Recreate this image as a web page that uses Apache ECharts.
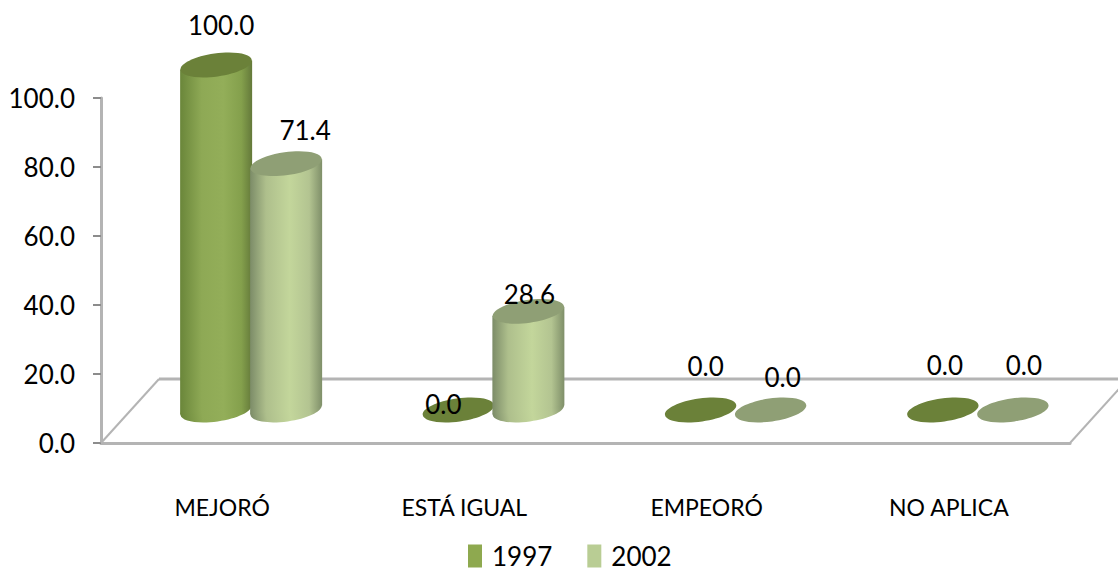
<!DOCTYPE html>
<html>
<head>
<meta charset="utf-8">
<style>
  html, body { margin: 0; padding: 0; background: #fff; }
  #main { width: 1118px; height: 571px; }
</style>
<script src="https://cdn.jsdelivr.net/npm/echarts@6/dist/echarts.min.js"></script>
</head>
<body>
<div id="main"></div>
<script>
const categories = ['MEJORÓ', 'ESTÁ IGUAL', 'EMPEORÓ', 'NO APLICA'];
const values1997 = [100.0, 0.0, 0.0, 0.0];
const values2002 = [71.4, 28.6, 0.0, 0.0];
const yTicks = { min: 0, max: 100, interval: 20 };

// label nudges in px from the top centre of each cylinder (placed by hand in the original)
const nudge1997 = [[5, -40], [-15, -6], [5, -44], [2, -45]];
const nudge2002 = [[19, -34], [1, -17], [12, -33], [11, -45]];

const fontName = 'Lato, "Liberation Sans", sans-serif';
const axisGrey = '#b4b4b4';
const depth = { x: 29, y: -33 };
const floorDepth = { x: 58, y: -64 };
const rx = 36;
const ry = 11.5;
const tilt = 0.14;

var chartDom = document.getElementById('main');
var myChart = echarts.init(chartDom, null, {
    renderer: 'svg'
});

function bodyFill(stops) {
    return new echarts.graphic.LinearGradient(0, 0, 1, 0, stops.map(function (s) {
        return { offset: s[0], color: s[1] };
    }));
}

function cylinder(side, look, nudges) {
    return function (params, api) {
        const base = api.coord([api.value(0), 0]);
        const top = api.coord([api.value(0), api.value(1)]);
        const cx = base[0] + depth.x + side * 35;
        const botY = base[1] + depth.y;
        const topY = top[1] + depth.y;
        const slope = rx * Math.sin(tilt) * 0.9;
        const nudge = nudges[params.dataIndex];
        const children = [];
        if (api.value(1) > 0) {
            const fill = bodyFill(look.body);
            children.push({
                type: 'ellipse',
                x: cx, y: botY, rotation: tilt,
                shape: { cx: 0, cy: 0, rx: rx, ry: ry },
                style: { fill: fill }
            });
            children.push({
                type: 'polygon',
                shape: { points: [
                    [cx - rx, topY + slope], [cx + rx, topY - slope],
                    [cx + rx, botY - slope], [cx - rx, botY + slope]
                ] },
                style: { fill: fill }
            });
        }
        children.push({
            type: 'ellipse',
            x: cx, y: topY, rotation: tilt,
            shape: { cx: 0, cy: 0, rx: rx, ry: ry },
            style: { fill: look.cap }
        });
        children.push({
            type: 'text',
            x: cx + nudge[0], y: topY + nudge[1],
            style: {
                text: api.value(1).toFixed(1),
                font: '26px ' + fontName,
                fill: '#000',
                align: 'center',
                verticalAlign: 'middle'
            }
        });
        return { type: 'group', children: children };
    };
}

function floorItem(params, api) {
    const origin = api.coord([0, 0]);
    const band = api.size([1, 0])[0];
    const left = origin[0] - band / 2;
    const right = left + band * categories.length;
    const y = origin[1];
    const backY = y + floorDepth.y;
    const line = function (x1, y1, x2, y2, w) {
        return {
            type: 'line',
            shape: { x1: x1, y1: y1, x2: x2, y2: y2 },
            style: { stroke: axisGrey, lineWidth: w }
        };
    };
    return {
        type: 'group',
        children: [
            line(left + floorDepth.x, backY, right + floorDepth.x, backY, 3),
            line(left, y, left + floorDepth.x, backY, 2),
            line(right, y, right + floorDepth.x, backY, 2)
        ]
    };
}

const look1997 = {
    cap: '#6b8139',
    body: [[0, '#6a863a'], [0.3, '#8ea955'], [0.6, '#93ae59'], [0.85, '#84a04c'], [1, '#64793a']]
};
const look2002 = {
    cap: '#8f9f75',
    body: [[0, '#7c8c68'], [0.22, '#aebf8c'], [0.55, '#c3d69b'], [0.82, '#b3c491'], [1, '#7f8f69']]
};

var option = {
    animation: false,
    backgroundColor: '#fff',
    textStyle: { fontFamily: fontName },
    grid: { left: 101, right: 48, top: 98, bottom: 128 },
    legend: {
        data: ['1997', '2002'],
        left: 468,
        top: 539,
        padding: 0,
        icon: 'rect',
        itemWidth: 14,
        itemHeight: 23,
        itemGap: 35,
        textStyle: { fontSize: 26, lineHeight: 24, color: '#000', fontFamily: fontName, padding: [10, 0, 0, 5] }
    },
    xAxis: {
        type: 'category',
        data: categories,
        axisLine: { lineStyle: { color: axisGrey, width: 3 } },
        axisTick: { length: 12, alignWithLabel: false, lineStyle: { color: '#8c8c8c', width: 1.5 } },
        axisLabel: { margin: 52, fontSize: 23, color: '#000', fontFamily: fontName }
    },
    yAxis: {
        type: 'value',
        min: yTicks.min,
        max: yTicks.max,
        interval: yTicks.interval,
        splitLine: { show: false },
        axisLine: { show: true, lineStyle: { color: axisGrey, width: 3 } },
        axisTick: { show: true, length: 8, lineStyle: { color: '#8c8c8c', width: 2 } },
        axisLabel: {
            margin: 26,
            fontSize: 26,
            color: '#000',
            fontFamily: fontName,
            formatter: function (v) { return v.toFixed(1); }
        }
    },
    series: [
        {
            name: 'floor',
            type: 'custom',
            silent: true,
            z: 1,
            renderItem: floorItem,
            data: [[0, 0]]
        },
        {
            name: '1997',
            type: 'custom',
            z: 2,
            clip: false,
            itemStyle: { color: '#8ea94f' },
            renderItem: cylinder(-1, look1997, nudge1997),
            data: values1997.map(function (v, i) { return [i, v]; })
        },
        {
            name: '2002',
            type: 'custom',
            z: 3,
            clip: false,
            itemStyle: { color: '#b9cd94' },
            renderItem: cylinder(1, look2002, nudge2002),
            data: values2002.map(function (v, i) { return [i, v]; })
        }
    ]
};
option && myChart.setOption(option);
</script>
</body>
</html>
